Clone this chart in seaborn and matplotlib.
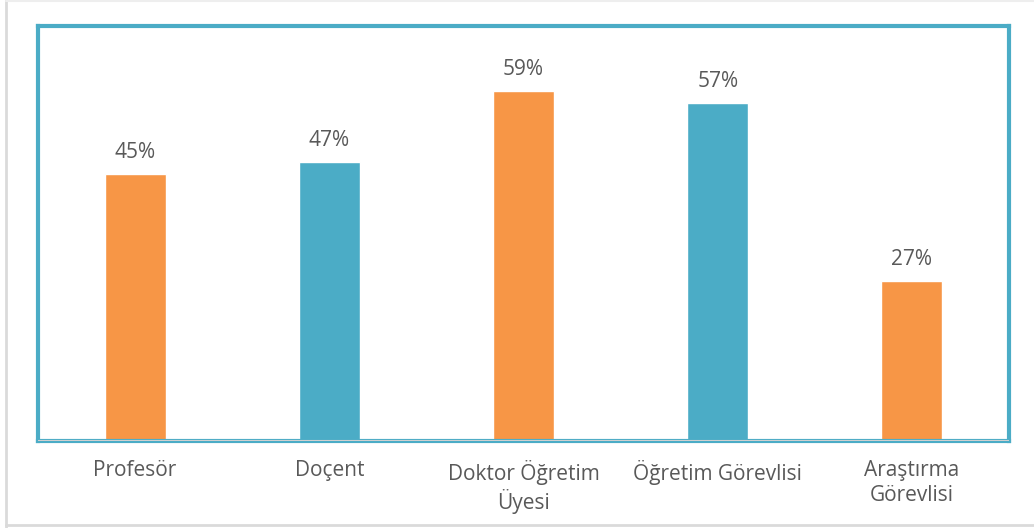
import matplotlib
matplotlib.use("Agg")
import matplotlib.pyplot as plt
import seaborn as sns
import pandas as pd
from matplotlib.lines import Line2D

categories = ["Profesör", "Doçent", "Doktor Öğretim\nÜyesi", "Öğretim Görevlisi", "Araştırma\nGörevlisi"]
values = [45, 47, 59, 57, 27]
colors = ["#F79646", "#4BACC6", "#F79646", "#4BACC6", "#F79646"]

df = pd.DataFrame({"kategori": categories, "oran": values})

sns.set_theme(style="white")
plt.rcParams["font.family"] = ["Open Sans", "DejaVu Sans"]

fig = plt.figure(figsize=(10.34, 5.28), dpi=100)
ax = fig.add_axes([38 / 1034, 87 / 528, 971 / 1034, 415 / 528])

sns.barplot(data=df, x="kategori", y="oran", hue="kategori", palette=colors,
            width=0.314, legend=False, saturation=1, ax=ax)

ax.set_ylim(0, 70)
ax.set_xlim(-0.5, 4.5)
ax.set_yticks([])
ax.set_xlabel("")
ax.set_ylabel("")
ax.tick_params(axis="x", length=0, pad=14, labelsize=15, labelcolor="#595959")
for t in ax.get_xticklabels():
    t.set_linespacing(1.2)

for c in ax.containers:
    ax.bar_label(c, labels=[f"{int(v)}%" for v in c.datavalues], padding=8,
                 fontsize=15, color="#595959")

for s in ax.spines.values():
    s.set_color("#4BACC6")
    s.set_linewidth(3)
ax.axhline(0, color="#D0D0D0", linewidth=1.5, zorder=5)

# outer light border of the picture (left, top, bottom)
gray = "#DADADA"
fig.lines.append(Line2D([6 / 1034, 6 / 1034], [0, 1], transform=fig.transFigure, color=gray, lw=2))
fig.lines.append(Line2D([6 / 1034, 1], [1 - 1 / 528, 1 - 1 / 528], transform=fig.transFigure, color="#EEEEEE", lw=1.5))
fig.lines.append(Line2D([6 / 1034, 1], [3 / 528, 3 / 528], transform=fig.transFigure, color=gray, lw=2))

fig.savefig("out.png", dpi=100)
